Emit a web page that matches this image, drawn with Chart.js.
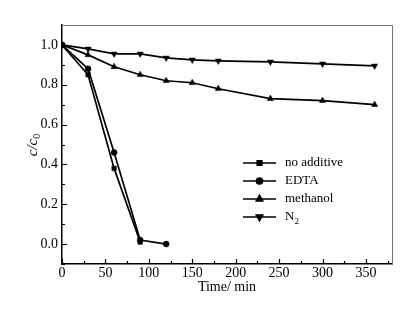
<!DOCTYPE html>
<html><head><meta charset="utf-8">
<script src="https://cdn.jsdelivr.net/npm/chart.js@4"></script>
<style>html,body{margin:0;padding:0;background:#fff}#w{width:420px;height:309px}</style>
</head><body><div id="w"><canvas id="c" width="420" height="309"></canvas></div>
<script>
const seriesNames = ["no additive", "EDTA", "methanol", "N2"];
const timeNoAdd = [0, 30, 60, 90];
const valNoAdd = [1.0, 0.85, 0.38, 0.01];
const timeEDTA = [0, 30, 60, 90, 120];
const valEDTA = [1.0, 0.88, 0.46, 0.02, 0.0];
const timeMeth = [0, 30, 60, 90, 120, 150, 180, 240, 300, 360];
const valMeth = [1.0, 0.95, 0.89, 0.85, 0.82, 0.81, 0.78, 0.73, 0.72, 0.70];
const timeN2 = [0, 30, 60, 90, 120, 150, 180, 240, 300, 360];
const valN2 = [1.0, 0.98, 0.955, 0.955, 0.935, 0.925, 0.92, 0.915, 0.905, 0.895];
const xTicks = [0, 50, 100, 150, 200, 250, 300, 350];
const yTicks = [0.0, 0.2, 0.4, 0.6, 0.8, 1.0];

const pts = (xs, ys) => xs.map((x, i) => ({x, y: ys[i]}));
const styles = [
  {pointStyle: 'rect', rot: 0, r: 3.2},
  {pointStyle: 'circle', rot: 0, r: 3},
  {pointStyle: 'triangle', rot: 0, r: 3.6},
  {pointStyle: 'triangle', rot: 180, r: 3.6}
];
const data = [pts(timeNoAdd, valNoAdd), pts(timeEDTA, valEDTA), pts(timeMeth, valMeth), pts(timeN2, valN2)];
const datasets = data.map((d, i) => ({
  label: seriesNames[i], data: d, showLine: true, borderColor: '#000', backgroundColor: '#000',
  borderWidth: 1.7, pointStyle: styles[i].pointStyle, rotation: styles[i].rot, pointRadius: styles[i].r,
  pointBorderWidth: 0.5, tension: 0
}));
const FONT = '"Liberation Serif", "Times New Roman", serif';

const deco = {
  id: 'deco',
  afterDraw(chart) {
    const ctx = chart.ctx, a = chart.chartArea, xs = chart.scales.x, ys = chart.scales.y;
    ctx.save();
    ctx.strokeStyle = '#777'; ctx.lineWidth = 1;
    ctx.beginPath(); ctx.moveTo(a.left, a.top + 0.5); ctx.lineTo(a.right + 0.5, a.top + 0.5); ctx.lineTo(a.right + 0.5, a.bottom); ctx.stroke();
    ctx.strokeStyle = '#000'; ctx.lineWidth = 1.2;
    ctx.beginPath();
    for (let v = 0; v <= 375; v += 25) {
      const px = Math.round(xs.getPixelForValue(v)) + 0.5;
      const len = v % 50 === 0 ? 5 : 3;
      ctx.moveTo(px, a.bottom); ctx.lineTo(px, a.bottom - len);
    }
    for (let k = 0; k <= 11; k++) {
      const v = -0.1 + k * 0.1;
      if (v > 1.05) break;
      const py = Math.round(ys.getPixelForValue(v)) + 0.5;
      const len = (k % 2 === 1) ? 5 : 3;
      ctx.moveTo(a.left, py); ctx.lineTo(a.left + len, py);
    }
    ctx.stroke();
    ctx.fillStyle = '#000';
    ctx.font = '14px ' + FONT; ctx.textAlign = 'center'; ctx.textBaseline = 'middle';
    ctx.fillText('Time/ min', (a.left + a.right) / 2, 287);
    ctx.save();
    ctx.translate(33, 145); ctx.rotate(-Math.PI / 2);
    ctx.font = 'italic 15px ' + FONT; ctx.textAlign = 'left';
    const t = 'c/c'; const w = ctx.measureText(t).width;
    ctx.font = '10px ' + FONT; const w0 = ctx.measureText('0').width;
    const start = -(w + w0) / 2;
    ctx.font = 'italic 15px ' + FONT; ctx.fillText(t, start, 0);
    ctx.font = '10px ' + FONT; ctx.fillText('0', start + w, 4);
    ctx.restore();
    const rows = [163, 181, 199, 217];
    ctx.textAlign = 'left';
    rows.forEach((y, i) => {
      ctx.strokeStyle = '#000'; ctx.lineWidth = 1.7;
      ctx.beginPath(); ctx.moveTo(243, y); ctx.lineTo(276, y); ctx.stroke();
      Chart.helpers.drawPoint(ctx, {pointStyle: styles[i].pointStyle, radius: styles[i].r, rotation: styles[i].rot, borderWidth: 0.5}, 259.5, y);
      ctx.fillStyle = '#000';
      if (i === 3) {
        ctx.font = '13px ' + FONT; ctx.fillText('N', 285, y);
        const wn = ctx.measureText('N').width;
        ctx.font = '9px ' + FONT; ctx.fillText('2', 285 + wn, y + 5);
      } else {
        ctx.font = '13px ' + FONT; ctx.fillText(seriesNames[i], 285, y);
      }
    });
    ctx.restore();
  }
};

new Chart(document.getElementById('c'), {
  type: 'scatter',
  data: {datasets},
  options: {
    responsive: false, animation: false, devicePixelRatio: 1,
    layout: {padding: {top: 25, right: 28, left: 0, bottom: 0}},
    plugins: {legend: {display: false}, tooltip: {enabled: false}},
    scales: {
      x: {
        type: 'linear', min: 0, max: 380,
        afterBuildTicks: s => { s.ticks = xTicks.map(v => ({value: v})); },
        afterFit: s => { s.height = 45; },
        grid: {display: false, drawTicks: false},
        border: {display: true, color: '#000', width: 1.5},
        ticks: {color: '#000', font: {family: FONT, size: 14}, padding: 1, maxRotation: 0, autoSkip: false}
      },
      y: {
        type: 'linear', min: -0.1, max: 1.1,
        afterBuildTicks: s => { s.ticks = yTicks.map(v => ({value: v})); },
        afterFit: s => { s.width = 62; },
        grid: {display: false, drawTicks: false},
        border: {display: true, color: '#000', width: 1.5},
        ticks: {color: '#000', font: {family: FONT, size: 14}, padding: 4, autoSkip: false,
          callback: v => Number(v).toFixed(1)}
      }
    }
  },
  plugins: [deco]
});
</script></body></html>
